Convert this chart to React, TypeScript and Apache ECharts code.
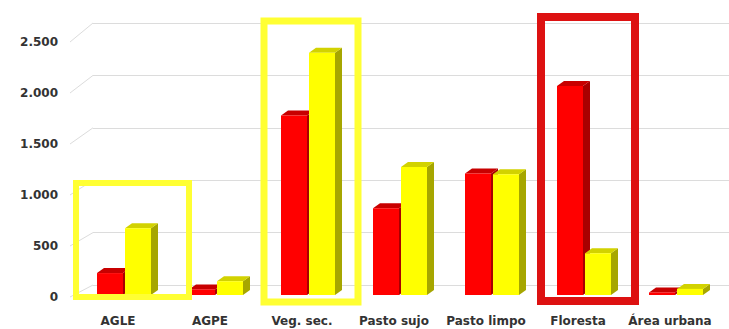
import React, { useEffect, useRef } from "react";
import * as echarts from "echarts";

const categories = ["AGLE", "AGPE", "Veg. sec.", "Pasto sujo", "Pasto limpo", "Floresta", "Área urbana"];
const redValues = [215, 55, 1760, 850, 1190, 2050, 25];
const yellowValues = [655, 135, 2375, 1255, 1185, 410, 60];
const yTicks = [0, 500, 1000, 1500, 2000, 2500];

const BAR_W = 26;
const DEPTH_X = 7;
const DEPTH_Y = 5;
const LIFT = 2;

function barRender(offset: number, front: string, side: string, top: string) {
  return (params: any, api: any) => {
    const idx = api.value(0);
    const v = api.value(1);
    const base = api.coord([idx, 0]);
    const tip = api.coord([idx, v]);
    const cx = base[0] + offset;
    const x0 = cx - BAR_W / 2;
    const x1 = cx + BAR_W / 2;
    const yb = base[1] - LIFT;
    const yt = tip[1] - LIFT;
    return {
      type: "group",
      children: [
        {
          type: "polygon",
          shape: { points: [[x1, yb], [x1 + DEPTH_X, yb - DEPTH_Y], [x1 + DEPTH_X, yt - DEPTH_Y], [x1, yt]] },
          style: { fill: side },
        },
        {
          type: "polygon",
          shape: { points: [[x0, yt], [x1, yt], [x1 + DEPTH_X, yt - DEPTH_Y], [x0 + DEPTH_X, yt - DEPTH_Y]] },
          style: { fill: top },
        },
        {
          type: "rect",
          shape: { x: x0, y: yt, width: BAR_W, height: Math.max(yb - yt, 0) },
          style: { fill: front },
        },
      ],
    };
  };
}

export default function App() {
  const ref = useRef<HTMLDivElement>(null);
  useEffect(() => {
    if (!ref.current) return;
    const chart = echarts.init(ref.current, undefined, { renderer: "svg" });
    const font = "DejaVu Sans";
    chart.setOption({
      animation: false,
      backgroundColor: "#ffffff",
      grid: [
        { left: 72, right: 13, top: 42, bottom: 32 },
        { left: 93, right: 0, top: 23, bottom: 44 },
      ],
      xAxis: [
        {
          type: "category",
          gridIndex: 0,
          data: categories,
          axisLine: { show: false },
          axisTick: { show: false },
          axisLabel: { margin: 18, fontSize: 12, fontWeight: "bold", color: "#333", fontFamily: font, interval: 0 },
        },
        {
          type: "category",
          gridIndex: 1,
          data: categories,
          show: false,
        },
      ],
      yAxis: [
        {
          type: "value",
          gridIndex: 0,
          min: 0,
          max: 2500,
          interval: 500,
          axisLine: { show: false },
          axisTick: { show: false },
          splitLine: { show: false },
          axisLabel: {
            margin: 14,
            fontSize: 12,
            fontWeight: "bold",
            color: "#333",
            fontFamily: font,
            formatter: (v: number) => v.toLocaleString("de-DE"),
          },
        },
        {
          type: "value",
          gridIndex: 1,
          min: 0,
          max: 2500,
          interval: 500,
          axisLine: { show: false },
          axisTick: { show: false },
          axisLabel: { show: false },
          splitLine: { show: true, lineStyle: { color: "#dcdcdc", width: 1 } },
        },
      ],
      series: [
        {
          type: "custom",
          xAxisIndex: 0,
          yAxisIndex: 0,
          data: yTicks.map((v) => [0, v]),
          renderItem: (params: any, api: any) => {
            const v = api.value(1);
            const p = api.coord([0, v]);
            const left = params.coordSys.x;
            const dy = 12 + (7 * v) / 2500;
            return {
              type: "line",
              shape: { x1: left - 2, y1: p[1], x2: left + 21, y2: p[1] - dy },
              style: { stroke: "#dcdcdc", lineWidth: 1 },
            };
          },
          silent: true,
          z: 1,
        },
        {
          type: "custom",
          name: "red",
          xAxisIndex: 0,
          yAxisIndex: 0,
          data: redValues.map((v, i) => [i, v]),
          renderItem: barRender(-8, "#ff0000", "#a80000", "#c80000"),
          z: 3,
        },
        {
          type: "custom",
          name: "yellow",
          xAxisIndex: 0,
          yAxisIndex: 0,
          data: yellowValues.map((v, i) => [i, v]),
          renderItem: barRender(20, "#ffff00", "#a6a600", "#d2d200"),
          z: 4,
        },
      ],
      graphic: [
        { type: "rect", shape: { x: 76, y: 183, width: 113, height: 114 }, style: { fill: "none", stroke: "#ffff33", lineWidth: 6 }, z: 10 },
        { type: "rect", shape: { x: 264, y: 21, width: 94, height: 281 }, style: { fill: "none", stroke: "#ffff33", lineWidth: 7 }, z: 10 },
        { type: "rect", shape: { x: 541, y: 17, width: 94, height: 284 }, style: { fill: "none", stroke: "#dd1111", lineWidth: 8 }, z: 10 },
      ],
    });
    return () => chart.dispose();
  }, []);
  return <div ref={ref} style={{ position: "fixed", left: 0, top: 0, width: 729, height: 329 }} />;
}
